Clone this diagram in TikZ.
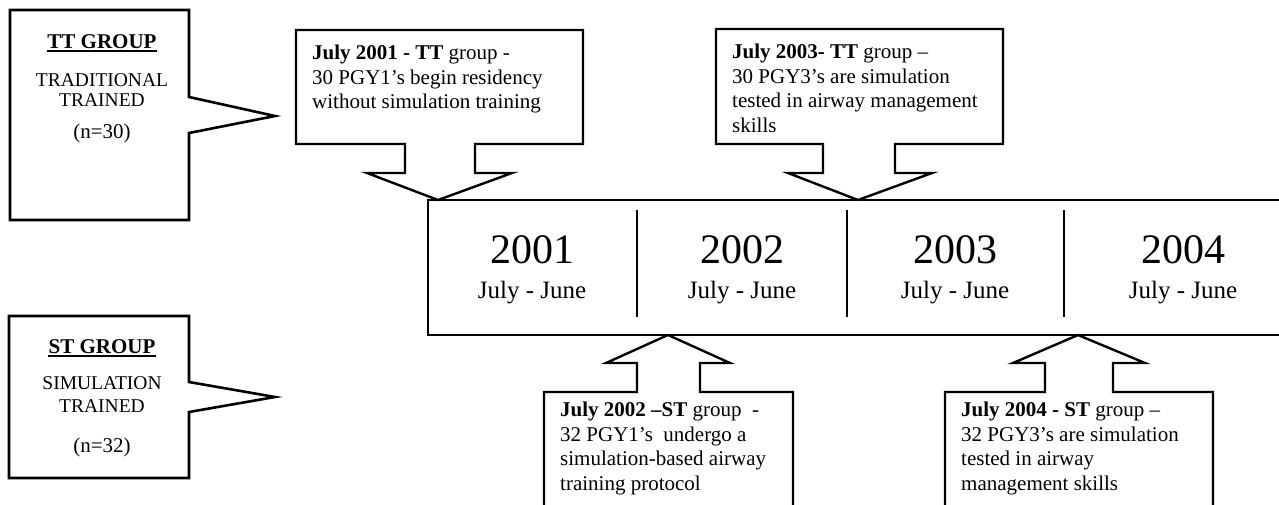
\documentclass[tikz,border=0pt]{standalone}
\usepackage{fontspec}
\setmainfont{Liberation Serif}
\usetikzlibrary{positioning, calc}

\begin{document}
\begin{tikzpicture}[
		x=1pt, y=-1pt,
		% Outline Styles
		group_box/.style={draw=black, line width=2.6pt, line join=miter},
		note_box/.style={draw=black, line width=2.4pt, line join=miter},
		time_line/.style={draw=black, line width=2.8pt},
		year_tick/.style={draw=black, line width=1.8pt},
		head_rule/.style={draw=black, line width=1.8pt},
		% Text Styles
		group_head/.style={inner sep=0pt, anchor=base, font=\fontsize{21}{24}\selectfont\bfseries},
		group_text/.style={inner sep=0pt, anchor=base, font=\fontsize{19.5}{22}\selectfont},
		group_n/.style={inner sep=0pt, anchor=base, font=\fontsize{21}{24}\selectfont},
		note_text/.style={anchor=north west, align=left, inner xsep=16pt, inner ysep=15pt, font=\fontsize{21}{24.5}\selectfont},
		year_text/.style={inner sep=0pt, anchor=base, font=\fontsize{42}{48}\selectfont},
		month_text/.style={inner sep=0pt, font=\fontsize{25}{30}\selectfont}
		]
		
		\useasboundingbox (0,0) rectangle (1279,504);
		\fill[white] (0,0) rectangle (1279,504);
		
		% --- 1. GROUP BOXES ---
		\draw[group_box] (189,133) -- (189,220) -- (10,220) -- (10,10) -- (189,10) -- (189,97) -- (275,116) -- cycle;
		\node[group_head] (TT_Head) at (102,48) {TT GROUP};
		\draw[head_rule] ([yshift=-3pt]TT_Head.base west) -- ([yshift=-3pt]TT_Head.base east);
		\node[group_text] (TT_Kind1) at (102,86) {TRADITIONAL};
		\node[group_text] (TT_Kind2) at (102,106) {TRAINED};
		\node[group_n] (TT_Size) at (102,138) {(n=30)};
		
		\draw[group_box] (189,412) -- (189,478) -- (9,478) -- (9,316) -- (189,316) -- (189,382) -- (275,397) -- cycle;
		\node[group_head] (ST_Head) at (102,353) {ST GROUP};
		\draw[head_rule] ([yshift=-3pt]ST_Head.base west) -- ([yshift=-3pt]ST_Head.base east);
		\node[group_text] (ST_Kind1) at (102,389) {SIMULATION};
		\node[group_text] (ST_Kind2) at (102,412) {TRAINED};
		\node[group_n] (ST_Size) at (102,452) {(n=32)};
		
		% --- 2. TIMELINE ---
		\draw[time_line] (1290,200) -- (428,200) -- (428,335) -- (1290,335);
		\draw[year_tick] (637,210) -- (637,317);
		\draw[year_tick] (847,210) -- (847,317);
		\draw[year_tick] (1064,210) -- (1064,317);
		
		\node[year_text] (Y2001) at (532,263) {2001};
		\node[year_text] (Y2002) at (742,263) {2002};
		\node[year_text] (Y2003) at (955,263) {2003};
		\node[year_text] (Y2004) at (1183,263) {2004};
		
		\node[month_text, below=17pt of Y2001] (M2001) {July - June};
		\node[month_text, below=17pt of Y2002] (M2002) {July - June};
		\node[month_text, below=17pt of Y2003] (M2003) {July - June};
		\node[month_text, below=17pt of Y2004] (M2004) {July - June};
		
		% --- 3. CALLOUTS ABOVE (TT group) ---
		\draw[note_box] (296,30) -- (583,30) -- (583,144) -- (475,144) -- (475,173) -- (512,173) -- (438,200)
			-- (367,173) -- (405,173) -- (405,144) -- (296,144) -- cycle;
		\node[note_text] (Note_TT01) at (296,30) {\textbf{July 2001 - TT} group -\\30 PGY1’s begin residency\\without simulation training};
		
		\draw[note_box] (716,29) -- (1003,29) -- (1003,144) -- (895,144) -- (895,173) -- (932,173) -- (858,200)
			-- (788,173) -- (823,173) -- (823,144) -- (716,144) -- cycle;
		\node[note_text] (Note_TT03) at (716,29) {\textbf{July 2003- TT} group –\\30 PGY3’s are simulation\\tested in airway management\\skills};
		
		% --- 4. CALLOUTS BELOW (ST group) ---
		% boxes run on past the lower edge, so no bottom line
		\draw[note_box] (544,520) -- (544,392) -- (637,392) -- (637,363) -- (606,363) -- (668,335)
			-- (730,363) -- (700,363) -- (700,392) -- (793,392) -- (793,520);
		\node[note_text, inner ysep=10pt] (Note_ST02) at (544,392) {\textbf{July 2002 –ST} group\ \ -\\32 PGY1’s\ \ undergo a\\simulation-based airway\\training protocol};
		
		\draw[note_box] (945,520) -- (945,392) -- (1045,392) -- (1045,363) -- (1013,363) -- (1078,335)
			-- (1145,363) -- (1113,363) -- (1113,392) -- (1213,392) -- (1213,520);
		\node[note_text, inner ysep=10pt] (Note_ST04) at (945,392) {\textbf{July 2004 - ST} group –\\32 PGY3’s are simulation\\tested in airway\\management skills};
		
	\end{tikzpicture}
\end{document}
